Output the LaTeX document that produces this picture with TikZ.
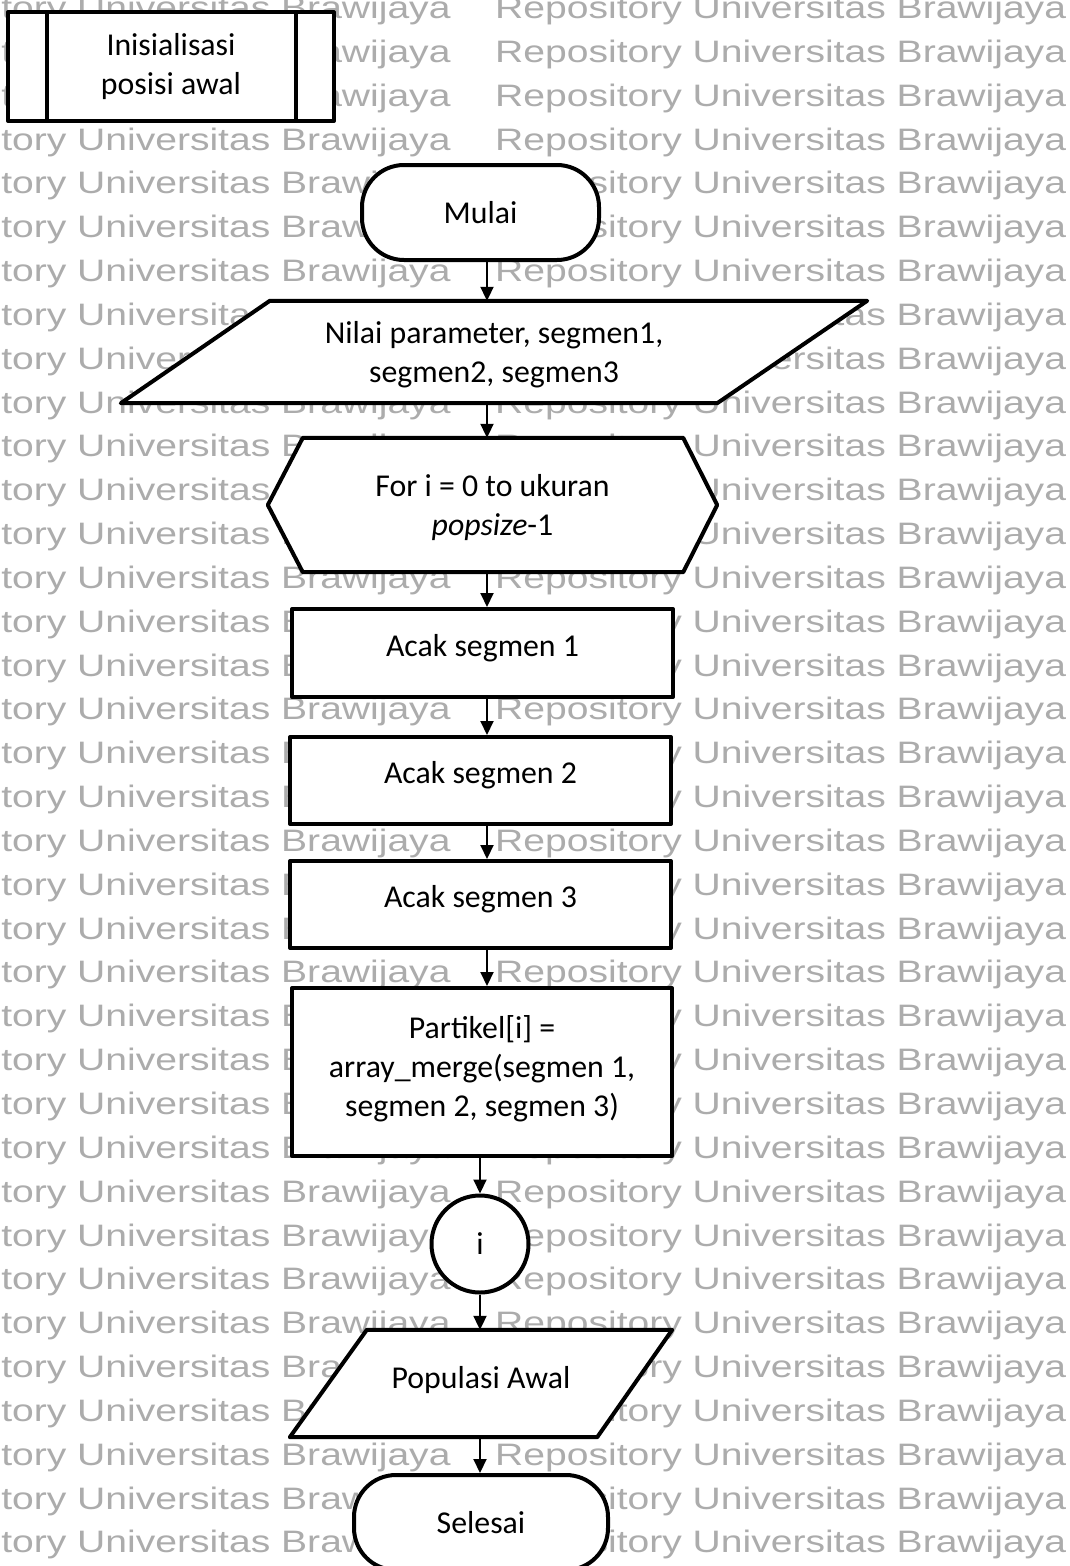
\documentclass[tikz,border=0pt]{standalone}
\usepackage{fontspec}
\setmainfont{Carlito}
\newfontfamily\wmfont[FakeStretch=1.26]{Liberation Sans}
\usetikzlibrary{arrows.meta,calc,backgrounds}

\definecolor{wmgray}{RGB}{172,172,172}

\begin{document}
\begin{tikzpicture}[x=1pt,y=-1pt,
  wm/.style={anchor=base west,inner sep=0pt,text=wmgray,
    font=\wmfont\fontsize{31}{31}\selectfont},
  flow/.style={line width=4pt,line join=round},
  lbl/.style={font=\fontsize{31.8}{38.8}\selectfont,align=center,inner sep=0pt},
  stepbox/.style={lbl,flow,draw,fill=white},
  ghost/.style={lbl},
  arrow/.style={line width=2pt,-{Triangle[length=14pt,width=13pt]}}]

\useasboundingbox (0,0) rectangle (1070,1566);

% page, watermark rows and the outlined (non-rectangular) symbols sit underneath
\begin{scope}[on background layer]
  \fill[white] (0,0) rectangle (1070,1566);
  \foreach \n in {0,...,35}{
    \node[wm] (wmL\n) at (-120.5,{18.5+43.84*\n}) {Repository Universitas Brawijaya};
    \node[wm] (wmR\n) at (495,{18.5+43.84*\n}) {Repository Universitas Brawijaya};
  }
\end{scope}

% predefined process
\node[stepbox,minimum width=326pt,minimum height=109pt] (init) at (171,66.5)
  {Inisialisasi\\posisi awal};
\draw[flow] ($(init.north west)+(41,0)$) -- ($(init.south west)+(41,0)$);
\draw[flow] ($(init.north east)+(-40,0)$) -- ($(init.south east)+(-40,0)$);

% start
\node[stepbox,rounded corners=42pt,minimum width=237pt,minimum height=95pt] (mulai)
  at (480.5,212.5) {Mulai};

% input parameters
\node[ghost,text depth=0pt,minimum width=746pt,minimum height=102pt] (p1) at (494,352)
  {Nilai parameter, segmen1,\\segmen2, segmen3};

% loop
\node[ghost,text depth=0pt,minimum width=449pt,minimum height=134pt] (hex) at (492.5,505)
  {For i = 0 to ukuran\\\textit{popsize}-1};

% process steps
\node[stepbox,text depth=16pt,minimum width=381pt,minimum height=88pt] (s1) at (482.5,653) {Acak segmen 1};
\node[stepbox,text depth=16pt,minimum width=381pt,minimum height=87pt] (s2) at (480.5,780.5) {Acak segmen 2};
\node[stepbox,text depth=16pt,minimum width=381pt,minimum height=87pt] (s3) at (480.5,904.5) {Acak segmen 3};
\node[stepbox,text depth=12pt,minimum width=380pt,minimum height=168pt] (s4) at (482,1072)
  {Partikel[i] =\\array\_merge(segmen 1,\\segmen 2, segmen 3)};

% loop connector
\node[stepbox,circle,minimum size=97pt] (conn) at (480,1244) {i};

% output
\node[ghost,text depth=13pt,minimum width=382pt,minimum height=107pt] (p2) at (481,1383.5) {Populasi Awal};

% end
\node[stepbox,rounded corners=42pt,minimum width=254pt,minimum height=95pt] (selesai)
  at (481,1522.5) {Selesai};

\begin{scope}[on background layer]
  \draw[flow,fill=white] ($(p1.north west)+(149,0)$) -- (p1.north east)
    -- ($(p1.south east)+(-150,0)$) -- (p1.south west) -- cycle;
  \draw[flow,fill=white] (hex.west) -- ($(hex.north west)+(35,0)$)
    -- ($(hex.north east)+(-34,0)$) -- (hex.east)
    -- ($(hex.south east)+(-34,0)$) -- ($(hex.south west)+(35,0)$) -- cycle;
  \draw[flow,fill=white] ($(p2.north west)+(77,0)$) -- (p2.north east)
    -- ($(p2.south east)+(-75,0)$) -- (p2.south west) -- cycle;
\end{scope}

% connectors
\coordinate (axis) at (487,0);
\draw[arrow] (mulai.south -| axis) -- (p1.north -| axis);
\draw[arrow] (p1.south -| axis) -- (hex.north -| axis);
\draw[arrow] (hex.south -| axis) -- (s1.north -| axis);
\draw[arrow] (s1.south -| axis) -- (s2.north -| axis);
\draw[arrow] (s2.south -| axis) -- (s3.north -| axis);
\draw[arrow] (s3.south -| axis) -- (s4.north -| axis);
\draw[arrow] (s4.south -| conn) -- (conn.north);
\draw[arrow] (conn.south) -- (p2.north -| conn);
\draw[arrow] (p2.south -| conn) -- (selesai.north -| conn);

\end{tikzpicture}
\end{document}
